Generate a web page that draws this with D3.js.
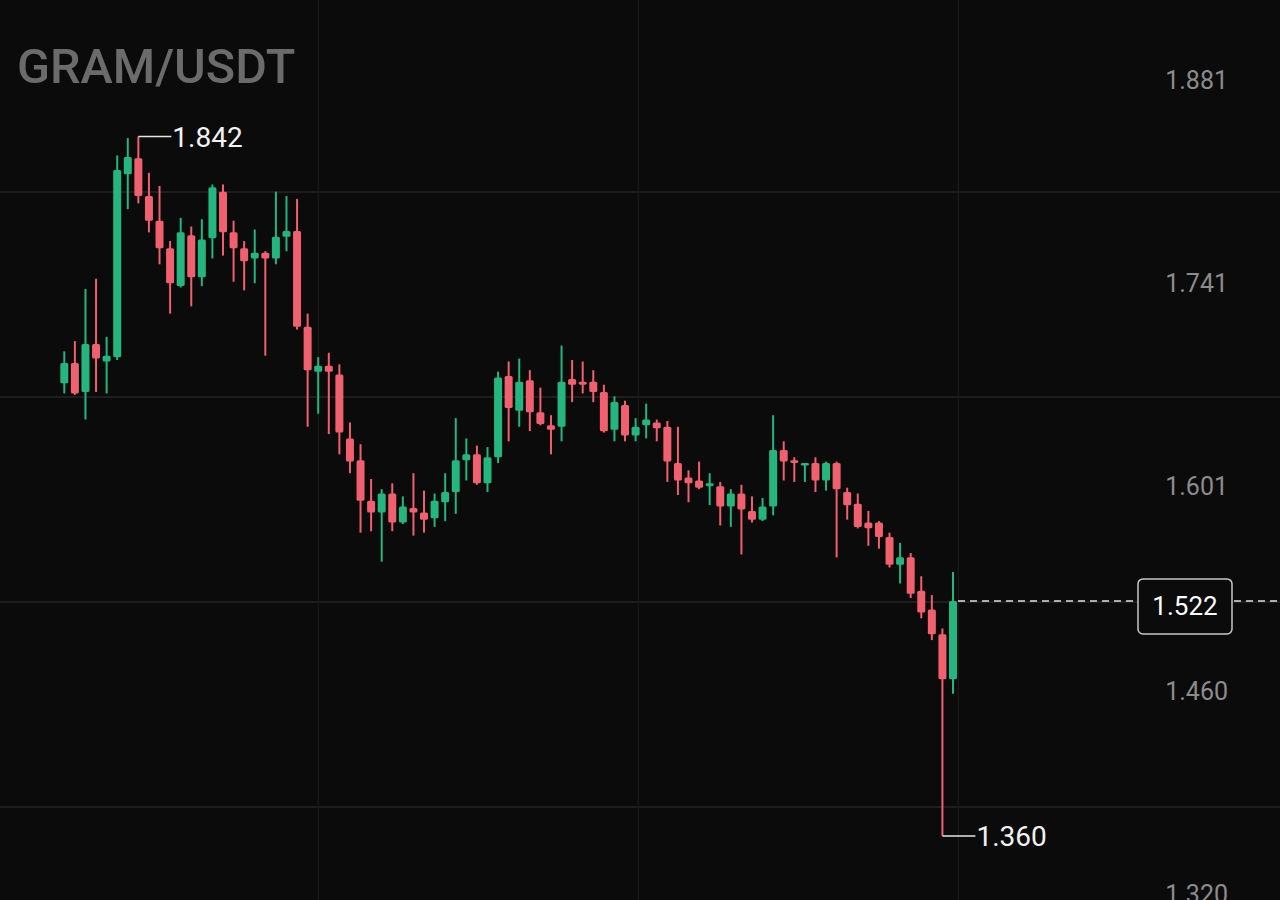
<!DOCTYPE html>
<html>
<head>
<meta charset="utf-8">
<script src="https://cdn.jsdelivr.net/npm/d3@7"></script>
<style>
  html, body { margin: 0; padding: 0; background: #0b0b0b; }
  svg { display: block; font-family: Roboto, "Noto Sans", sans-serif; }
</style>
</head>
<body>
<main></main>
<script>
const width = 1280;
const height = 900;

// candles, oldest first
const opens = [
  1.672, 1.686, 1.666, 1.699, 1.687, 1.690, 1.816, 1.827, 1.801, 1.784,
  1.765, 1.739, 1.774, 1.745, 1.772, 1.804, 1.776, 1.765, 1.758, 1.762,
  1.758, 1.773, 1.777, 1.711, 1.680, 1.684, 1.678, 1.634, 1.619, 1.591,
  1.583, 1.596, 1.576, 1.586, 1.583, 1.579, 1.590, 1.597, 1.619, 1.623,
  1.603, 1.621, 1.677, 1.653, 1.674, 1.652, 1.643, 1.642, 1.675, 1.673,
  1.673, 1.666, 1.640, 1.657, 1.636, 1.643, 1.645, 1.642, 1.617, 1.607,
  1.605, 1.601, 1.601, 1.587, 1.596, 1.584, 1.578, 1.587, 1.626, 1.619,
  1.616, 1.617, 1.605, 1.617, 1.597, 1.589, 1.576, 1.576, 1.566, 1.547,
  1.552, 1.529, 1.516, 1.499, 1.468
];
const highs = [
  1.694, 1.701, 1.737, 1.744, 1.704, 1.829, 1.841, 1.842, 1.817, 1.808,
  1.770, 1.786, 1.780, 1.785, 1.809, 1.809, 1.784, 1.770, 1.778, 1.763,
  1.804, 1.801, 1.799, 1.720, 1.690, 1.693, 1.685, 1.645, 1.630, 1.606,
  1.599, 1.603, 1.594, 1.610, 1.598, 1.596, 1.610, 1.648, 1.634, 1.629,
  1.628, 1.680, 1.687, 1.689, 1.681, 1.669, 1.650, 1.698, 1.688, 1.687,
  1.681, 1.671, 1.663, 1.660, 1.648, 1.658, 1.647, 1.646, 1.642, 1.612,
  1.618, 1.610, 1.604, 1.599, 1.602, 1.594, 1.593, 1.650, 1.632, 1.621,
  1.617, 1.621, 1.618, 1.618, 1.600, 1.596, 1.584, 1.577, 1.569, 1.562,
  1.555, 1.539, 1.526, 1.503, 1.542
];
const lows = [
  1.665, 1.664, 1.647, 1.666, 1.665, 1.688, 1.792, 1.796, 1.776, 1.754,
  1.720, 1.738, 1.725, 1.739, 1.758, 1.760, 1.742, 1.736, 1.741, 1.691,
  1.754, 1.763, 1.709, 1.642, 1.651, 1.637, 1.623, 1.610, 1.569, 1.570,
  1.549, 1.570, 1.575, 1.567, 1.569, 1.573, 1.577, 1.582, 1.605, 1.602,
  1.597, 1.617, 1.632, 1.642, 1.639, 1.643, 1.623, 1.632, 1.659, 1.665,
  1.659, 1.638, 1.632, 1.632, 1.632, 1.634, 1.632, 1.604, 1.595, 1.590,
  1.599, 1.588, 1.574, 1.573, 1.554, 1.576, 1.577, 1.581, 1.605, 1.604,
  1.604, 1.597, 1.598, 1.552, 1.578, 1.572, 1.560, 1.558, 1.545, 1.534,
  1.524, 1.510, 1.495, 1.360, 1.458
];
const closes = [
  1.686, 1.665, 1.699, 1.689, 1.691, 1.819, 1.828, 1.801, 1.784, 1.765,
  1.741, 1.776, 1.745, 1.771, 1.807, 1.776, 1.765, 1.756, 1.762, 1.758,
  1.773, 1.777, 1.711, 1.681, 1.684, 1.680, 1.638, 1.618, 1.591, 1.583,
  1.596, 1.576, 1.587, 1.583, 1.578, 1.591, 1.597, 1.619, 1.623, 1.603,
  1.621, 1.676, 1.655, 1.673, 1.652, 1.644, 1.640, 1.673, 1.671, 1.671,
  1.666, 1.639, 1.659, 1.636, 1.642, 1.647, 1.641, 1.618, 1.605, 1.603,
  1.600, 1.603, 1.587, 1.596, 1.585, 1.578, 1.587, 1.626, 1.618, 1.617,
  1.617, 1.605, 1.617, 1.599, 1.588, 1.573, 1.572, 1.566, 1.547, 1.552,
  1.527, 1.514, 1.499, 1.468, 1.522
];

const title = "GRAM/USDT";
const priceTicks = [1.881, 1.741, 1.601, 1.460, 1.320];
const gridPrices = [1.8038, 1.6625, 1.5212, 1.380];
const timeGrid = [24, 54.25, 84.5]; // candle index positions of the vertical lines
const highMark = { index: 7, price: 1.842 };
const lowMark = { index: 83, price: 1.360 };
const lastPrice = 1.522;

const upColor = "#25b57e";
const downColor = "#f0606e";

const candles = opens.map((o, i) => ({
  i: i,
  open: o,
  high: highs[i],
  low: lows[i],
  close: closes[i]
}));

const xScale = d3.scaleLinear().domain([0, candles.length - 1]).range([64.3, 953]);
const yScale = d3.scaleLinear().domain([1.320, 1.881]).range([894, 80]);

const svg = d3.select("main").append("svg").attr("width", width).attr("height", height);

svg.append("rect").attr("width", width).attr("height", height).attr("fill", "#0b0b0b");

// grid
svg
  .append("g")
  .selectAll("line")
  .data(gridPrices)
  .enter()
  .append("line")
  .attr("x1", 0)
  .attr("x2", width)
  .attr("y1", (d) => yScale(d))
  .attr("y2", (d) => yScale(d))
  .attr("stroke", "#262626")
  .attr("stroke-width", 1.5);

svg
  .append("g")
  .selectAll("line")
  .data(timeGrid)
  .enter()
  .append("line")
  .attr("x1", (d) => xScale(d))
  .attr("x2", (d) => xScale(d))
  .attr("y1", 0)
  .attr("y2", height)
  .attr("stroke", "#1c1c1c")
  .attr("stroke-width", 1.2);

// title
svg
  .append("text")
  .attr("x", 17)
  .attr("y", 83)
  .text(title)
  .style("font-size", "48.5px")
  .style("font-weight", "500")
  .style("fill", "#6b6b6b");

// price axis labels
svg
  .append("g")
  .selectAll("text")
  .data(priceTicks)
  .enter()
  .append("text")
  .attr("x", 1228)
  .attr("y", (d) => yScale(d) + 9)
  .attr("text-anchor", "end")
  .text((d) => d3.format(".3f")(d))
  .style("font-size", "25px")
  .style("fill", "#8c8c8c");

// last price dashed line
svg
  .append("line")
  .attr("x1", xScale(candles.length - 1) + 5)
  .attr("x2", width)
  .attr("y1", yScale(lastPrice))
  .attr("y2", yScale(lastPrice))
  .attr("stroke", "#e0e0e0")
  .attr("stroke-width", 1.5)
  .attr("stroke-dasharray", "7,5");

// candles
const candleG = svg.append("g");
const colorOf = (d) => (d.close >= d.open ? upColor : downColor);

candleG
  .selectAll("line")
  .data(candles)
  .enter()
  .append("line")
  .attr("x1", (d) => xScale(d.i))
  .attr("x2", (d) => xScale(d.i))
  .attr("y1", (d) => yScale(d.high))
  .attr("y2", (d) => yScale(d.low))
  .attr("stroke", colorOf)
  .attr("stroke-width", 2);

candleG
  .selectAll("rect")
  .data(candles)
  .enter()
  .append("rect")
  .attr("x", (d) => xScale(d.i) - 4)
  .attr("width", 8)
  .attr("y", (d) => yScale(Math.max(d.open, d.close)))
  .attr("height", (d) => Math.max(2.5, Math.abs(yScale(d.open) - yScale(d.close))))
  .attr("rx", 1.5)
  .attr("fill", colorOf);

// high / low markers
[highMark, lowMark].forEach((m) => {
  const x = xScale(m.index);
  const y = yScale(m.price);
  svg
    .append("line")
    .attr("x1", x)
    .attr("x2", x + 33)
    .attr("y1", y)
    .attr("y2", y)
    .attr("stroke", "#e6e6e6")
    .attr("stroke-width", 1.5);
  svg
    .append("text")
    .attr("x", x + 34)
    .attr("y", y + 10.5)
    .text(d3.format(".3f")(m.price))
    .style("font-size", "28px")
    .style("fill", "#f2f2f2");
});

// last price tag
const tag = svg.append("g").attr("transform", `translate(1185, ${yScale(lastPrice) + 5})`);
tag
  .append("rect")
  .attr("x", -47)
  .attr("y", -27)
  .attr("width", 94)
  .attr("height", 55)
  .attr("rx", 5)
  .attr("fill", "#0b0b0b")
  .attr("stroke", "#c8c8c8")
  .attr("stroke-width", 1.5);
tag
  .append("text")
  .attr("x", 0)
  .attr("y", 9.5)
  .attr("text-anchor", "middle")
  .text(d3.format(".3f")(lastPrice))
  .style("font-size", "26px")
  .style("fill", "#ffffff");
</script>
</body>
</html>
